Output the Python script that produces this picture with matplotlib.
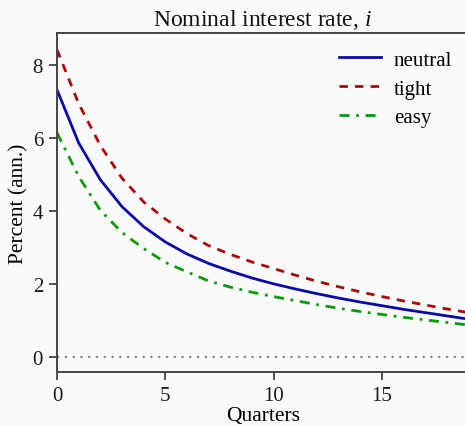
import matplotlib.pyplot as plt

# quarters and nominal rate paths (percent, annualised)
quarters = list(range(20))
neutral = [7.33, 5.87, 4.86, 4.12, 3.57, 3.15, 2.82, 2.56, 2.35, 2.16,
           2.00, 1.86, 1.73, 1.61, 1.50, 1.40, 1.30, 1.21, 1.12, 1.03]
tight = [8.43, 6.95, 5.80, 4.90, 4.25, 3.78, 3.38, 3.05, 2.81, 2.60,
         2.42, 2.24, 2.07, 1.92, 1.78, 1.65, 1.53, 1.42, 1.31, 1.21]
easy = [6.15, 4.95, 4.02, 3.41, 2.97, 2.59, 2.33, 2.08, 1.91, 1.77,
        1.65, 1.54, 1.43, 1.33, 1.24, 1.16, 1.08, 1.01, 0.94, 0.87]
xticks = [0, 5, 10, 15]
yticks = [0, 2, 4, 6, 8]

plt.rcParams['font.family'] = ['Liberation Serif', 'DejaVu Serif']
plt.rcParams['mathtext.fontset'] = 'custom'
plt.rcParams['mathtext.it'] = 'Liberation Serif:italic'
plt.rcParams['mathtext.rm'] = 'Liberation Serif'

bg = '#fafafa'
fig = plt.figure(figsize=(4.65, 4.27), dpi=100, facecolor=bg)
ax = fig.add_axes([57 / 465, 54 / 427, 411.7 / 465, 338.7 / 427], facecolor=bg)

ax.plot(quarters, neutral, color='#0a0aa8', lw=2, label='neutral')
ax.plot(quarters, tight, color='#a80a0a', lw=2, ls=(0, (3, 2.6)), label='tight')
ax.plot(quarters, easy, color='#0a9a0a', lw=2, ls=(0, (3.6, 2.4, 1, 2.4)), label='easy')
ax.axhline(0, color='#888888', lw=1.6, ls=(0, (1, 2.5)))

ax.set_xlim(0, 19)
ax.set_ylim(-0.42, 8.88)
ax.set_xticks(xticks)
ax.set_yticks(yticks)
ax.tick_params(labelsize=15, length=6, width=1.2, color='#333333', labelcolor='#1a1a1a', pad=4)
for s in ax.spines.values():
    s.set_color('#444444')
    s.set_linewidth(1.4)

ax.set_title('Nominal interest rate, $i$', fontsize=17, color='#111111', pad=6)
ax.set_xlabel('Quarters', fontsize=15.5, labelpad=1)
ax.set_ylabel('Percent (ann.)', fontsize=15.5, labelpad=3)
ax.legend(frameon=False, fontsize=15, loc='upper right', handlelength=2.0,
          handletextpad=0.6, borderaxespad=0.4, labelspacing=0.45)

fig.savefig('out.png', dpi=100, facecolor=bg)
